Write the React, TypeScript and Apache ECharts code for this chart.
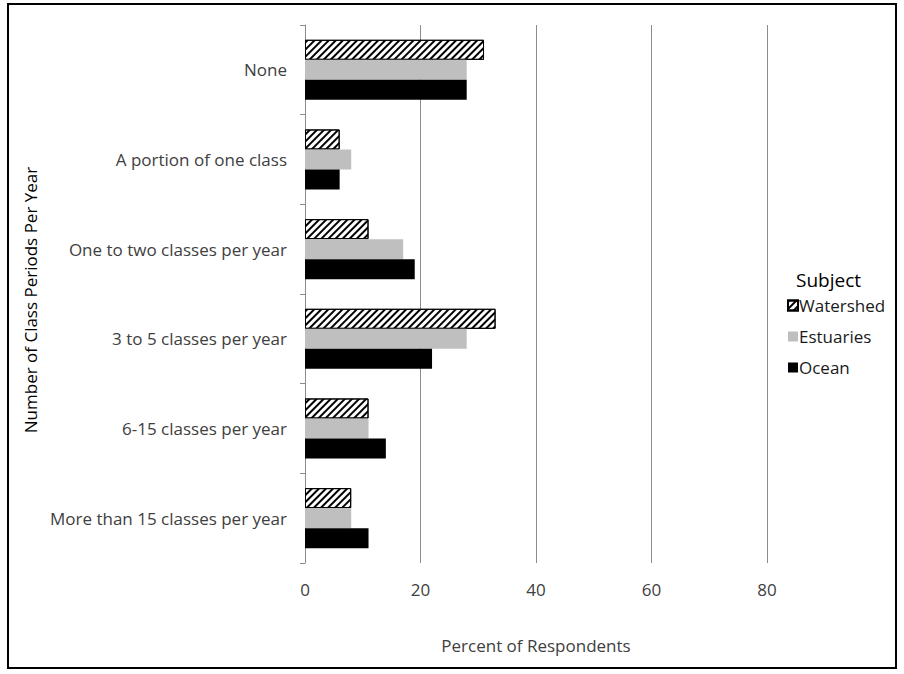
import React, { useEffect, useRef } from "react";
import * as echarts from "echarts";

const categories = [
  "None",
  "A portion of one class",
  "One to two classes per year",
  "3 to 5 classes per year",
  "6-15 classes per year",
  "More than 15 classes per year",
];
const watershed = [31, 6, 11, 33, 11, 8];
const estuaries = [28, 8, 17, 28, 11, 8];
const ocean = [28, 6, 19, 22, 14, 11];
const xTicks = [0, 20, 40, 60, 80];

const FONT = "Open Sans";

export default function App() {
  const ref = useRef<HTMLDivElement>(null);
  useEffect(() => {
    if (!ref.current) return;
    const chart = echarts.init(ref.current, null, { renderer: "svg" });
    const hatch = {
      symbol: "rect",
      symbolSize: 1,
      dashArrayX: [1, 0],
      dashArrayY: [1.8, 2.6],
      rotation: -Math.PI / 4,
      color: "#000",
      backgroundColor: "#fff",
    };
    chart.setOption({
      animation: false,
      backgroundColor: "#fff",
      textStyle: { fontFamily: FONT },
      grid: { left: 305, top: 25, width: 462, height: 538, containLabel: false },
      xAxis: {
        type: "value",
        min: xTicks[0],
        max: xTicks[xTicks.length - 1],
        interval: 20,
        axisLine: { show: false },
        axisTick: { show: false },
        axisLabel: { margin: 18, fontSize: 17, color: "#404040", fontFamily: FONT },
        splitLine: { show: true, lineStyle: { color: "#8c8c8c", width: 1 } },
        name: "Percent of Respondents",
        nameLocation: "middle",
        nameGap: 74,
        nameTextStyle: { fontSize: 17, color: "#404040", fontFamily: FONT, verticalAlign: "top" },
      },
      yAxis: {
        type: "category",
        data: categories,
        inverse: true,
        axisLine: { show: true, lineStyle: { color: "#8c8c8c", width: 1 } },
        axisTick: { show: true, length: 5, lineStyle: { color: "#8c8c8c" } },
        axisLabel: { margin: 18, fontSize: 17, color: "#404040", fontFamily: FONT },
        splitLine: { show: false },
      },
      legend: {
        orient: "vertical",
        left: 782,
        top: 292,
        itemWidth: 10,
        itemHeight: 10,
        itemGap: 14,
        icon: "rect",
        textStyle: { fontSize: 17, color: "#1a1a1a", fontFamily: FONT, padding: [0, 0, 0, -4] },
        data: ["Watershed", "Estuaries", "Ocean"],
      },
      graphic: [
        {
          type: "rect",
          shape: { x: 8, y: 4, width: 888, height: 664 },
          style: { fill: "none", stroke: "#000", lineWidth: 2 },
          silent: true,
        },
        {
          type: "text",
          x: 796,
          y: 280,
          style: {
            text: "Subject",
            fontSize: 19,
            fontFamily: FONT,
            fill: "#000",
            verticalAlign: "middle",
            align: "left",
          },
        },
        {
          type: "text",
          x: 30,
          y: 300,
          rotation: Math.PI / 2,
          style: {
            text: "Number of Class Periods Per Year",
            fontSize: 17,
            fontFamily: FONT,
            fill: "#000",
            align: "center",
            verticalAlign: "middle",
          },
        },
      ],
      series: [
        {
          name: "Watershed",
          type: "bar",
          data: watershed,
          barGap: "0%",
          barCategoryGap: "33%",
          itemStyle: { color: "#fff", borderColor: "#000", borderWidth: 1, decal: hatch },
        },
        {
          name: "Estuaries",
          type: "bar",
          data: estuaries,
          itemStyle: { color: "#bfbfbf" },
        },
        {
          name: "Ocean",
          type: "bar",
          data: ocean,
          itemStyle: { color: "#000" },
        },
      ],
    });
    return () => chart.dispose();
  }, []);
  return (
    <div
      ref={ref}
      style={{ position: "fixed", left: 0, top: 0, width: 904, height: 674 }}
    />
  );
}
